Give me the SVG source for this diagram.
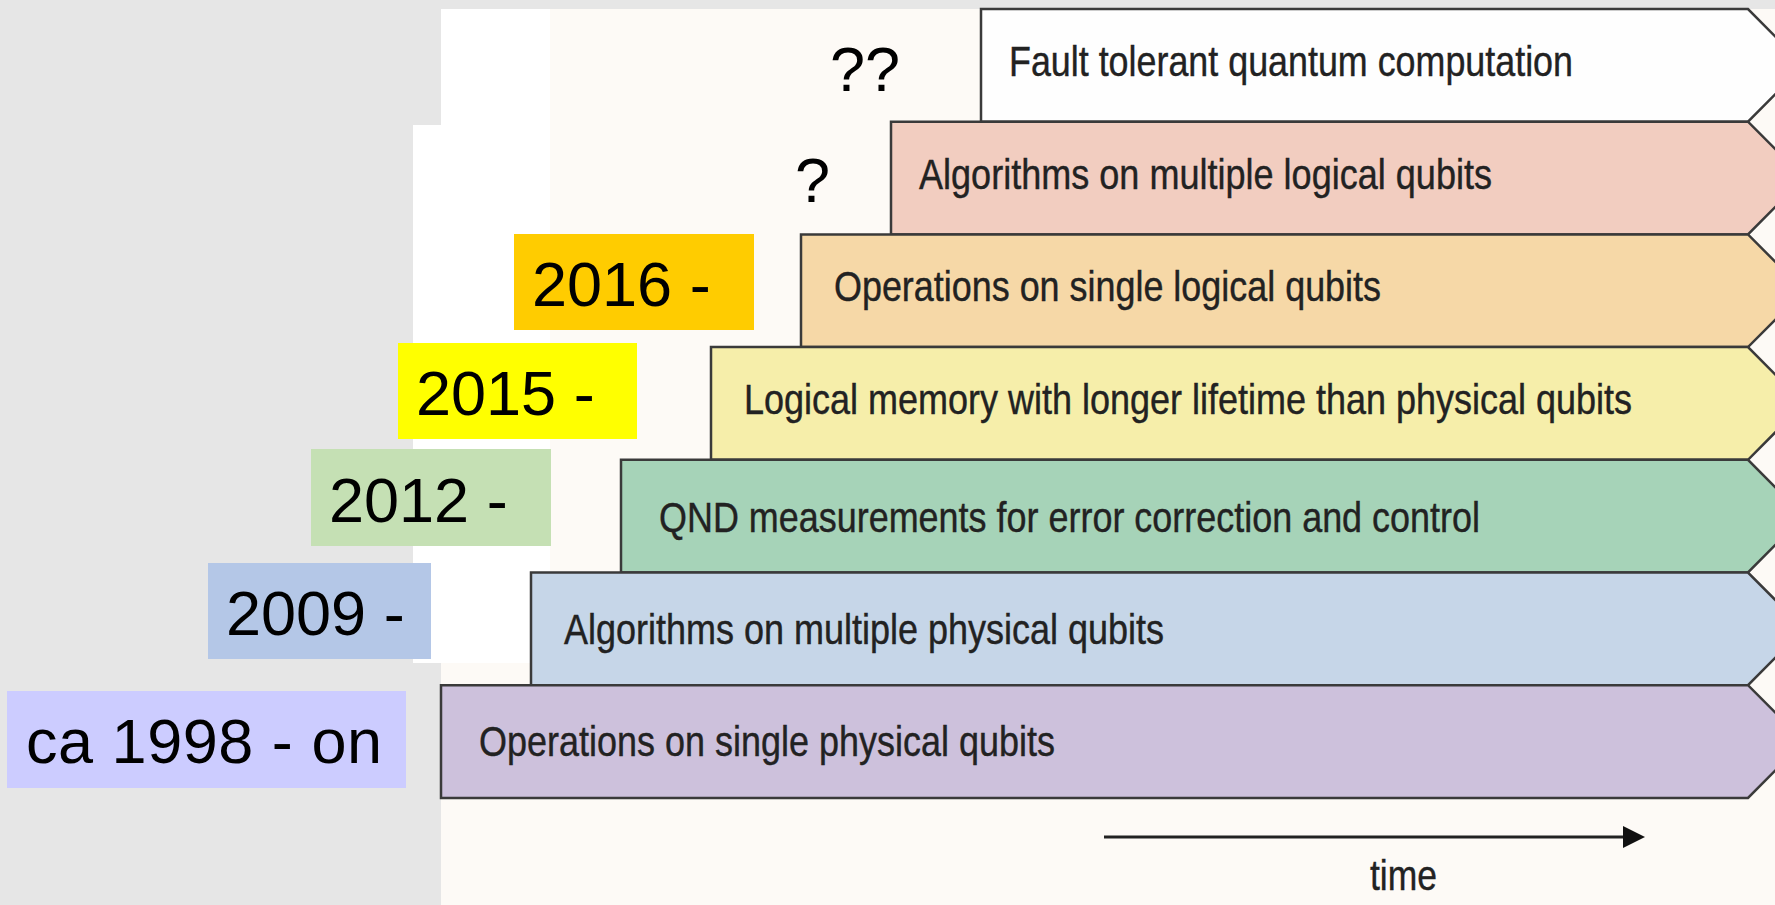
<svg xmlns="http://www.w3.org/2000/svg" width="1775" height="905" viewBox="0 0 1775 905">
  <defs>
    <style>
      .bar { stroke: #3a3a3a; stroke-width: 2.5; stroke-linejoin: miter; }
      .bt { font-family: "Liberation Sans Narrow", "Liberation Sans", Arial, sans-serif; font-size: 42px; fill: #222222; stroke: #222222; stroke-width: 0.4; }
      .lb { font-family: "Liberation Sans", Arial, sans-serif; font-size: 63px; fill: #000000; }
    </style>
  </defs>
  <!-- backgrounds -->
  <rect x="0" y="0" width="1775" height="905" fill="#e6e6e6"/>
  <rect x="441" y="9" width="1334" height="896" fill="#fdfaf6"/>
  <path d="M441 9 H550 V663 H441 Z M413 125 H441 V663 H413 Z" fill="#ffffff"/>

  <!-- bars -->
  <g id="row1">
    <polygon class="bar" fill="#fefefe" points="981,9 1748,9 1804,65.4 1748,121.7 981,121.7"/>
    <text class="bt" transform="scale(0.85,1)" x="1187.06" y="76" textLength="663.53" lengthAdjust="spacingAndGlyphs">Fault tolerant quantum computation</text>
  </g>
  <g id="row2">
    <polygon class="bar" fill="#f2cdc0" points="891,121.7 1748,121.7 1804,178 1748,234.4 891,234.4"/>
    <text class="bt" transform="scale(0.85,1)" x="1081.18" y="189" textLength="674.12" lengthAdjust="spacingAndGlyphs">Algorithms on multiple logical qubits</text>
  </g>
  <g id="row3">
    <polygon class="bar" fill="#f6d8a7" points="801,234.4 1748,234.4 1804,290.7 1748,347.1 801,347.1"/>
    <text class="bt" transform="scale(0.85,1)" x="981.18" y="301" textLength="643.53" lengthAdjust="spacingAndGlyphs">Operations on single logical qubits</text>
  </g>
  <g id="row4">
    <polygon class="bar" fill="#f6eeaa" points="711,347.1 1748,347.1 1804,403.4 1748,459.8 711,459.8"/>
    <text class="bt" transform="scale(0.85,1)" x="875.29" y="414" textLength="1044.71" lengthAdjust="spacingAndGlyphs">Logical memory with longer lifetime than physical qubits</text>
  </g>
  <g id="row5">
    <polygon class="bar" fill="#a6d3b8" points="621,459.8 1748,459.8 1804,516.1 1748,572.5 621,572.5"/>
    <text class="bt" transform="scale(0.85,1)" x="775.29" y="532" textLength="965.88" lengthAdjust="spacingAndGlyphs">QND measurements for error correction and control</text>
  </g>
  <g id="row6">
    <polygon class="bar" fill="#c6d6e8" points="531,572.5 1748,572.5 1804,628.8 1748,685.2 531,685.2"/>
    <text class="bt" transform="scale(0.85,1)" x="663.53" y="644" textLength="705.88" lengthAdjust="spacingAndGlyphs">Algorithms on multiple physical qubits</text>
  </g>
  <g id="row7">
    <polygon class="bar" fill="#cdc1dc" points="441,685.2 1748,685.2 1804,741.5 1748,797.9 441,797.9"/>
    <text class="bt" transform="scale(0.85,1)" x="563.53" y="756" textLength="677.65" lengthAdjust="spacingAndGlyphs">Operations on single physical qubits</text>
  </g>

  <!-- question marks -->
  <g id="q2">
    <text class="lb" x="830" y="91">??</text>
  </g>
  <g id="q1">
    <text class="lb" x="795" y="202">?</text>
  </g>

  <!-- year labels -->
  <g id="y2016">
    <rect x="514" y="234" width="240" height="96" fill="#ffcc00"/>
    <text class="lb" x="532" y="306">2016 -</text>
  </g>
  <g id="y2015">
    <rect x="398" y="343" width="239" height="96" fill="#ffff00"/>
    <text class="lb" x="416" y="415">2015 -</text>
  </g>
  <g id="y2012">
    <rect x="311" y="449" width="240" height="97" fill="#c5e0b4"/>
    <text class="lb" x="329" y="522">2012 -</text>
  </g>
  <g id="y2009">
    <rect x="208" y="563" width="223" height="96" fill="#b4c7e7"/>
    <text class="lb" x="226" y="635">2009 -</text>
  </g>
  <g id="y1998">
    <rect x="7" y="691" width="399" height="97" fill="#ccccff"/>
    <text class="lb" x="26" y="763" textLength="356" lengthAdjust="spacing">ca 1998 - on</text>
  </g>

  <!-- connectors: time axis -->
  <g id="connectors">
    <line x1="1104" y1="837" x2="1628" y2="837" stroke="#222222" stroke-width="3"/>
    <polygon points="1623,826 1645,837 1623,848" fill="#111111"/>
  </g>
  <g id="time">
    <text class="bt" transform="scale(0.85,1)" x="1611.76" y="890" textLength="78.82" lengthAdjust="spacingAndGlyphs">time</text>
  </g>
</svg>
